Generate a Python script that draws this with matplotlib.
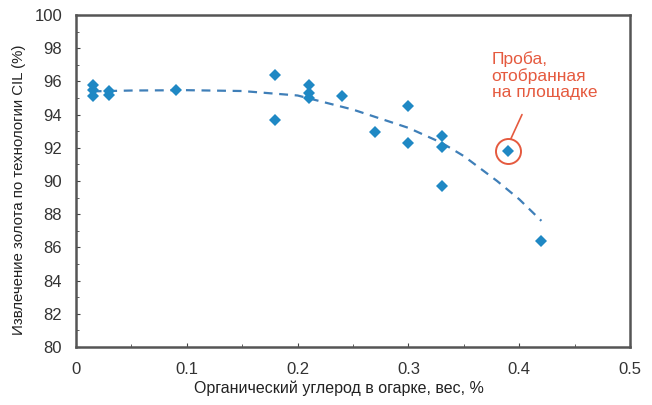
import numpy as np
import matplotlib
matplotlib.use('Agg')
import matplotlib.pyplot as plt
from matplotlib.ticker import MultipleLocator

plt.rcParams['font.family'] = ['Liberation Sans', 'DejaVu Sans']

# carbon in calcine, wt %
carbon = [0.015, 0.015, 0.015, 0.03, 0.03, 0.09, 0.18, 0.18, 0.21, 0.21, 0.21,
          0.24, 0.27, 0.30, 0.30, 0.33, 0.33, 0.33, 0.39, 0.42]
# CIL gold recovery, %
recovery = [95.8, 95.5, 95.1, 95.4, 95.15, 95.5, 96.4, 93.7, 95.8, 95.3, 95.0,
            95.1, 92.95, 94.5, 92.3, 92.7, 92.05, 89.7, 91.8, 86.4]
# dashed trend line
trend_x = [0.015, 0.05, 0.1, 0.15, 0.2, 0.25, 0.3, 0.33, 0.35, 0.38, 0.4, 0.42]
trend_y = [95.4, 95.45, 95.47, 95.42, 95.15, 94.3, 93.2, 92.3, 91.5, 90.0, 88.9, 87.6]
site_x, site_y = 0.39, 91.8
site_label = 'Проба,\nотобранная\nна площадке'

blue = '#1f88c4'
red = '#e55a3f'

def main():
  fig = plt.figure(figsize=(6.52, 4.05), dpi=100)
  ax = fig.add_axes([0.1166, 0.1432, 0.8497, 0.8198])

  ax.plot(trend_x, trend_y, '--', color='#3f7fb8', lw=1.6, dashes=(4, 3))
  ax.plot(carbon, recovery, 'D', color=blue, ms=6.3, mew=0)

  ax.plot([site_x], [site_y], 'o', ms=18, mfc='none', mec=red, mew=1.4)
  ax.annotate('', xy=(0.3925, site_y + 0.75), xytext=(0.4025, 94.0),
              arrowprops=dict(arrowstyle='-', color=red, lw=1.2,
                              shrinkA=0, shrinkB=0))
  ax.text(0.375, 97.8, site_label, color=red, fontsize=12.5, va='top',
          ha='left', linespacing=1.08)

  ax.set_xlim(0, 0.5)
  ax.set_ylim(80, 100)
  ax.set_xticks([0, 0.1, 0.2, 0.3, 0.4, 0.5])
  ax.set_xticklabels(['0', '0.1', '0.2', '0.3', '0.4', '0.5'])
  ax.set_yticks(range(80, 101, 2))
  ax.xaxis.set_minor_locator(MultipleLocator(0.05))
  ax.yaxis.set_minor_locator(MultipleLocator(1))
  ax.tick_params(which='both', direction='in', labelsize=12, color='#444444',
                 labelcolor='#333333')
  ax.tick_params(which='major', length=3)
  ax.tick_params(which='minor', length=2.5)
  ax.tick_params(axis='y', which='major', pad=10)
  ax.tick_params(axis='x', which='major', pad=11)
  for s in ax.spines.values():
    s.set_linewidth(1.8)
    s.set_color('#555555')

  ax.set_xlabel('Органический углерод в огарке, вес, %', fontsize=11.5,
                color='#222222')
  ax.set_ylabel('Извлечение золота по технологии CIL (%)', fontsize=10.8,
                color='#222222')
  ax.xaxis.set_label_coords(0.475, -0.10)
  ax.yaxis.set_label_coords(-0.09, 0.473)
  fig.savefig('out.png', dpi=100)

if __name__ == '__main__':
  main()
